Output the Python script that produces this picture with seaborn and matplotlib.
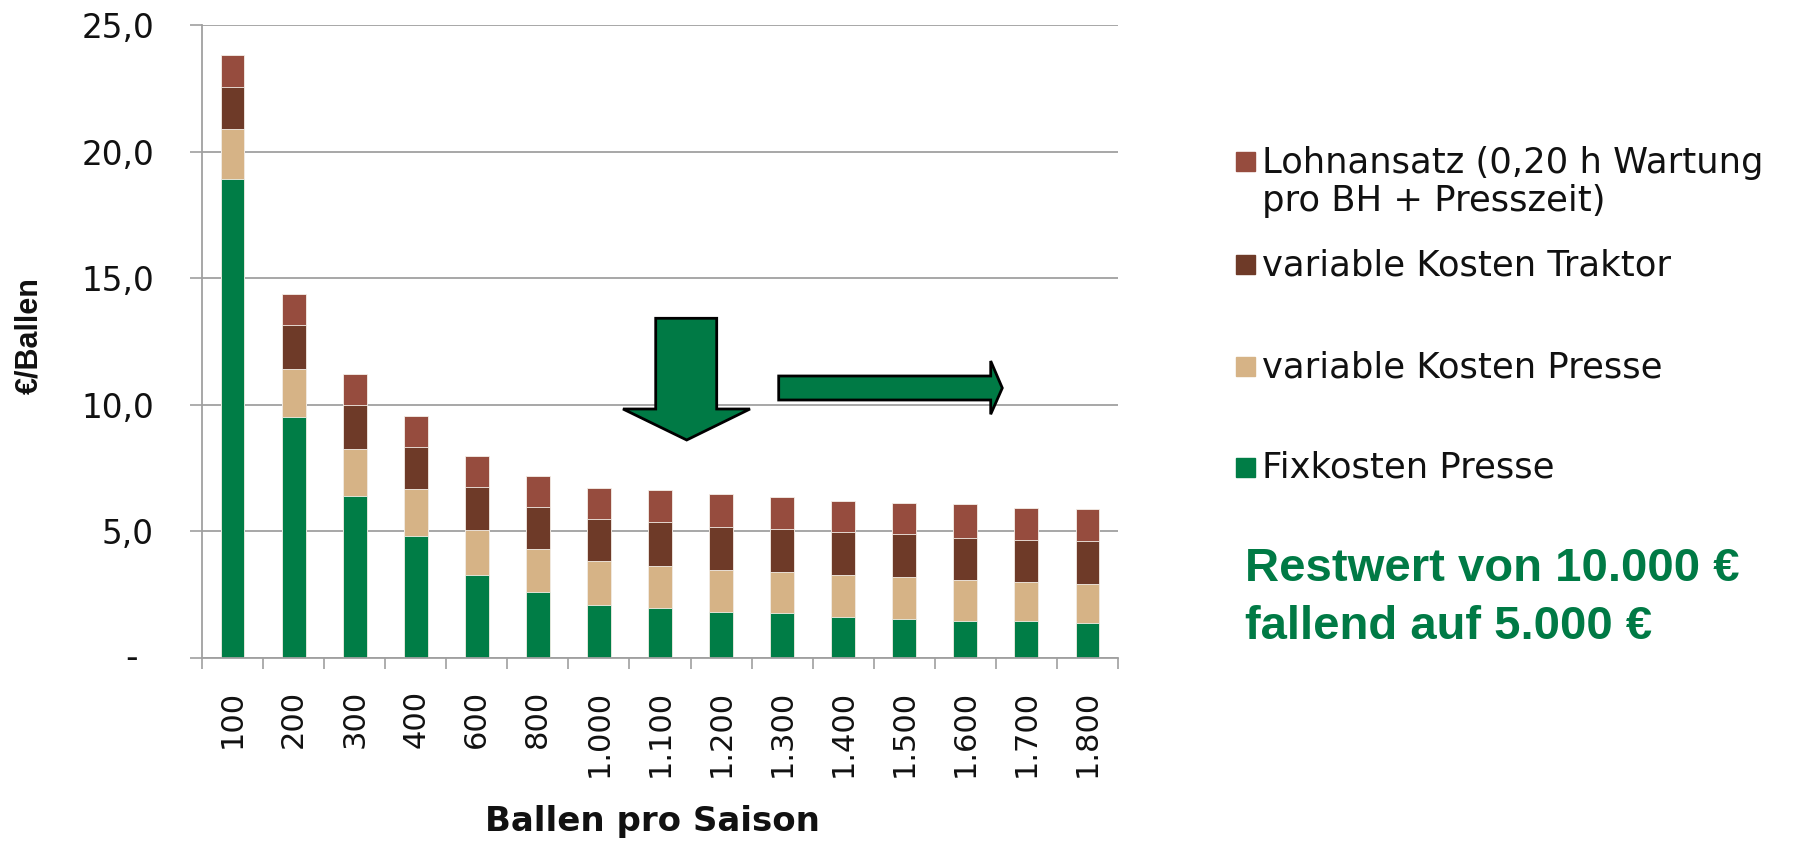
import numpy as np
import matplotlib
matplotlib.use("Agg")
from matplotlib import pyplot as plt
from matplotlib.patches import Polygon, Rectangle
import seaborn as sns

ballen = ["100", "200", "300", "400", "600", "800", "1.000", "1.100", "1.200",
          "1.300", "1.400", "1.500", "1.600", "1.700", "1.800"]
fixkosten = [18.9, 9.5, 6.4, 4.8, 3.27, 2.6, 2.09, 1.96, 1.83, 1.76, 1.61, 1.53, 1.48, 1.48, 1.40]
var_presse = [2.0, 1.93, 1.86, 1.86, 1.8, 1.7, 1.73, 1.68, 1.65, 1.65, 1.67, 1.67, 1.59, 1.51, 1.53]
var_traktor = [1.65, 1.71, 1.73, 1.67, 1.67, 1.66, 1.68, 1.73, 1.69, 1.68, 1.68, 1.68, 1.68, 1.69, 1.68]
lohnansatz = [1.25, 1.24, 1.24, 1.24, 1.23, 1.24, 1.23, 1.27, 1.31, 1.26, 1.24, 1.25, 1.32, 1.24, 1.26]

series = ["Fixkosten Presse", "variable Kosten Presse", "variable Kosten Traktor",
          "Lohnansatz (0,20 h Wartung\npro BH + Presszeit)"]
colors = ["#007D46", "#D6B386", "#6E3A28", "#964C3E"]
yticks = [0, 5, 10, 15, 20, 25]
ytick_labels = ["", "5,0", "10,0", "15,0", "20,0", "25,0"]

W, H = 1793, 842
sns.set_theme(style="white")
plt.rcParams["font.family"] = ["DejaVu Sans"]
plt.rcParams["text.color"] = "#111111"
plt.rcParams["axes.labelcolor"] = "#111111"

fig = plt.figure(figsize=(W / 100, H / 100), dpi=100)
ax = fig.add_axes([202 / W, 1 - 658 / H, (1118 - 202) / W, (658 - 25) / H])

# stacked bars: draw cumulative totals from the top down
stack = np.cumsum([fixkosten, var_presse, var_traktor, lohnansatz], axis=0)
for i in range(3, -1, -1):
    sns.barplot(x=ballen, y=stack[i], color=colors[i], width=0.39, ax=ax,
                order=ballen, saturation=1, edgecolor="#f4efe8", linewidth=0.6)

grey = "#a0a0a0"
ax.set_xlim(-0.5, 14.5)
ax.set_ylim(0, 25)
ax.set_yticks(yticks)
ax.set_yticklabels(ytick_labels)
ax.set_xticks(range(len(ballen)))
ax.set_xticklabels(ballen, rotation=90)
ax.set_xticks(np.arange(-0.5, 15, 1), minor=True)
ax.tick_params(axis="y", which="major", left=True, length=8.6, width=1.2, color=grey,
               direction="out", pad=26, labelsize=23.5, labelcolor="#111111")
ax.tick_params(axis="x", which="major", bottom=True, length=0, pad=23,
               labelsize=22, labelcolor="#111111")
ax.tick_params(axis="x", which="minor", bottom=True, length=8, width=1.2, color=grey,
               direction="out")
ax.yaxis.grid(True, color=grey, lw=1.3)
ax.set_axisbelow(True)
for s in ["top", "right"]:
    ax.spines[s].set_visible(False)
for s in ["left", "bottom"]:
    ax.spines[s].set_color(grey)
    ax.spines[s].set_linewidth(1.3)

ax.annotate("-", xy=(0, 0), xycoords=ax.get_yaxis_transform(), xytext=(-46, 0),
            textcoords="offset points", ha="right", va="center", fontsize=25,
            color="#111111")

ax.set_ylabel("€/Ballen", fontsize=22, fontweight="bold",
              family=["Liberation Sans", "DejaVu Sans"])
ax.yaxis.set_label_coords(-0.172, 0.51)
ax.set_xlabel("Ballen pro Saison", fontsize=24.5, fontweight="bold")
ax.xaxis.set_label_coords(0.492, -0.232)


def fx(x):
    return x / W


def fy(y):
    return 1 - y / H


# legend, built by hand to follow the original spacing
legend_rows = [(3, 161, 182), (2, 264, 265), (1, 366, 367), (0, 467, 468)]
for idx, ymark, ytext in legend_rows:
    fig.patches.append(Rectangle((fx(1236), fy(ymark + 9.5)), 19 / W, 19 / H,
                                 transform=fig.transFigure, color=colors[idx]))
    fig.text(fx(1262), fy(ytext), series[idx], fontsize=25.5, va="center",
             ha="left", color="#111111", linespacing=1.15)

green = "#007A45"
fig.text(fx(1245), fy(569), "Restwert von 10.000 €", fontsize=34, fontweight="bold",
         color=green, va="center", ha="left", family=["Liberation Sans", "DejaVu Sans"])
fig.text(fx(1245), fy(627), "fallend auf 5.000 €", fontsize=34, fontweight="bold",
         color=green, va="center", ha="left", family=["Liberation Sans", "DejaVu Sans"])

down = [(655.7, 318.3), (716.7, 318.3), (716.7, 409), (750, 409), (686.7, 440),
        (623, 409), (655.7, 409)]
right = [(778.7, 376), (990.7, 376), (990.7, 361), (1002.3, 388), (990.7, 414.3),
         (990.7, 400), (778.7, 400)]
for pts in (down, right):
    fig.patches.append(Polygon([(fx(x), fy(y)) for x, y in pts], closed=True,
                               transform=fig.transFigure, facecolor=green,
                               edgecolor="black", lw=2, zorder=5))

plt.savefig("out.png", dpi=100)
